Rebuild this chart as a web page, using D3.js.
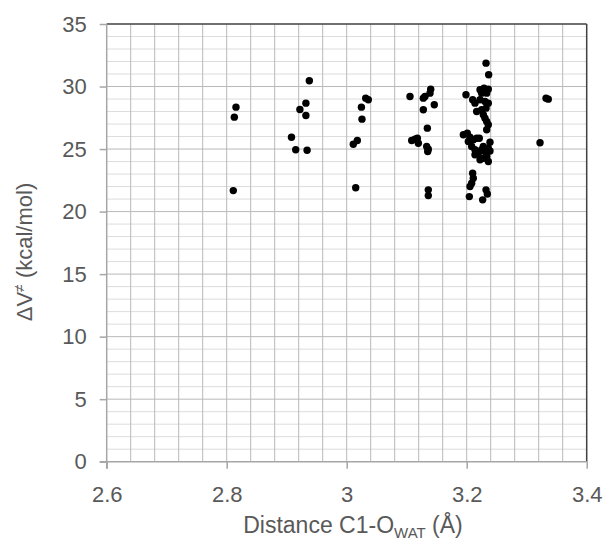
<!DOCTYPE html>
<html>
<head>
<meta charset="utf-8">
<script src="https://cdn.jsdelivr.net/npm/d3@7"></script>
<style>
  html, body { margin: 0; padding: 0; background: #fff; }
  svg { display: block; }
  text { font-family: "Liberation Sans", Arial, sans-serif; fill: #595959; }
</style>
</head>
<body>
<svg id="chart" width="611" height="547"></svg>
<script>
// C1–O(water) distance (Å) and activation barrier ΔV≠ (kcal/mol) per configuration
const distance = [
  2.8155, 2.8127, 2.8110,
  2.9377, 2.9320, 2.9220, 2.9320, 2.9080, 2.9150, 2.9340,
  3.0317, 3.0360, 3.0245, 3.0255, 3.0177, 3.0110, 3.0150,
  3.1055, 3.1277, 3.1305, 3.1400, 3.1388, 3.1460, 3.1277, 3.1344,
  3.1083, 3.1138, 3.1177, 3.1194, 3.1333, 3.1360, 3.1350, 3.1360, 3.1360,
  3.2322, 3.2366, 3.1988, 3.2222, 3.2288, 3.2360, 3.2249, 3.2333,
  3.2099, 3.2138, 3.2222, 3.2305, 3.2360, 3.2166, 3.2249, 3.2322,
  3.2277, 3.2305, 3.2333, 3.2360, 3.2333,
  3.1944, 3.2010, 3.2055, 3.2111, 3.2166, 3.2027, 3.2210, 3.2388, 3.2277,
  3.2083, 3.2138, 3.2194, 3.2249, 3.2305, 3.2360, 3.2333, 3.2277, 3.2222, 3.2360, 3.2138, 3.2388,
  3.2099, 3.2110, 3.2083, 3.2055, 3.2044, 3.2266, 3.2322, 3.2344,
  3.3222, 3.3322, 3.3360
];
const barrier = [
  28.35, 27.55, 21.68,
  30.46, 28.67, 28.16, 27.68, 25.95, 24.94, 24.91,
  29.07, 28.94, 28.35, 27.39, 25.68, 25.39, 21.90,
  29.20, 29.07, 29.20, 29.79, 29.47, 28.54, 28.14, 26.67,
  25.68, 25.79, 25.87, 25.47, 25.20, 24.99, 24.80, 21.74, 21.28,
  31.87, 30.94, 29.34, 29.74, 29.87, 29.79, 29.47, 29.47,
  28.94, 28.67, 28.94, 28.80, 28.67, 28.00, 28.14, 28.27,
  27.74, 27.47, 27.20, 26.94, 26.54,
  26.14, 26.27, 25.95, 25.74, 25.87, 25.60, 25.87, 25.55, 25.20,
  25.20, 24.94, 24.67, 24.94, 24.80, 25.07, 24.40, 24.27, 24.14, 24.00, 24.54, 24.85,
  23.07, 22.67, 22.27, 22.00, 21.20, 20.94, 21.74, 21.41,
  25.50, 29.07, 28.99
];
const xTicks = [2.6, 2.8, 3.0, 3.2, 3.4];
const yTicks = [0, 5, 10, 15, 20, 25, 30, 35];

const svg = d3.select("#chart");
const plotL = 106.7, plotR = 586.7, plotT = 24, plotB = 461.7;

const x = d3.scaleLinear().domain([2.6, 3.4]).range([plotL, plotR]);
const y = d3.scaleLinear().domain([0, 35]).range([plotB, plotT]);

// minor grid: vertical every 0.04 Å, horizontal every 1 kcal/mol
const vGrid = d3.range(1, 20).map(i => 2.6 + i * 0.04);
const hGrid = d3.range(1, 35);

svg.append("g").selectAll("line").data(hGrid.filter(v => v % 5 !== 0)).join("line")
  .attr("x1", plotL).attr("x2", plotR)
  .attr("y1", d => y(d)).attr("y2", d => y(d))
  .attr("stroke", "#dcdcdc").attr("stroke-width", 1);

svg.append("g").selectAll("line").data(hGrid.filter(v => v % 5 === 0)).join("line")
  .attr("x1", plotL).attr("x2", plotR)
  .attr("y1", d => y(d)).attr("y2", d => y(d))
  .attr("stroke", "#b8b8b8").attr("stroke-width", 1);

svg.append("g").selectAll("line").data(vGrid).join("line")
  .attr("x1", d => x(d)).attr("x2", d => x(d))
  .attr("y1", plotT).attr("y2", plotB)
  .attr("stroke", "#b8b8b8").attr("stroke-width", 1);

// frame: darker top and right edges
svg.append("line").attr("x1", plotL).attr("x2", plotR).attr("y1", plotT).attr("y2", plotT)
  .attr("stroke", "#404040").attr("stroke-width", 1.5);
svg.append("line").attr("x1", plotR).attr("x2", plotR).attr("y1", plotT).attr("y2", plotB)
  .attr("stroke", "#404040").attr("stroke-width", 1.5);

// axes
const xAxis = d3.axisBottom(x).tickValues(xTicks).tickSize(7).tickPadding(18)
  .tickFormat(d => String(+d.toFixed(1)));
const yAxis = d3.axisLeft(y).tickValues(yTicks).tickSize(7).tickPadding(13);

const gx = svg.append("g").attr("transform", `translate(0,${plotB})`).call(xAxis);
const gy = svg.append("g").attr("transform", `translate(${plotL},0)`).call(yAxis);

[gx, gy].forEach(g => {
  g.select(".domain").attr("stroke", "#a6a6a6").attr("stroke-width", 1.5);
  g.selectAll(".tick line").attr("stroke", "#a6a6a6").attr("stroke-width", 1.5);
  g.selectAll(".tick text").attr("font-size", 22).attr("fill", "#595959")
    .attr("font-family", "Liberation Sans, Arial, sans-serif");
});
gx.select(".domain").attr("d", `M${plotL - 7},0H${plotR}`);
gy.select(".domain").attr("d", `M0,${plotT}V${plotB + 7}`);

// points
svg.append("g").selectAll("circle").data(distance.map((d, i) => [d, barrier[i]])).join("circle")
  .attr("cx", d => x(d[0])).attr("cy", d => y(d[1])).attr("r", 3.7)
  .attr("fill", "#000");

// axis titles
const xt = svg.append("text").attr("x", 353).attr("y", 533).attr("text-anchor", "middle")
  .attr("font-size", 23);
xt.append("tspan").text("Distance C1-O");
xt.append("tspan").attr("font-size", 15).attr("dy", 5).text("WAT");
xt.append("tspan").attr("dy", -5).text(" (Å)");

const yt = svg.append("text").attr("transform", "translate(32,252) rotate(-90)")
  .attr("text-anchor", "middle").attr("font-size", 22);
yt.append("tspan").text("ΔV");
yt.append("tspan").attr("font-size", 14).attr("dy", -8).text("≠");
yt.append("tspan").attr("dy", 8).text(" (kcal/mol)");
</script>
</body>
</html>
